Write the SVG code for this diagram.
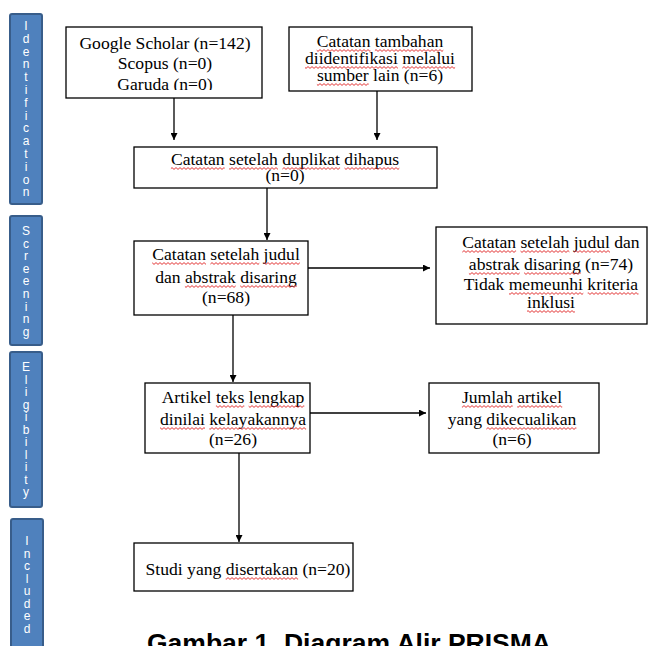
<svg xmlns="http://www.w3.org/2000/svg" width="658" height="646" viewBox="0 0 658 646">
<defs>
<style>
.bg{fill:#ffffff}
.side{fill:#4F81BD;stroke:#385D8A;stroke-width:2}
.sidet{fill:#ffffff;font-family:"Liberation Sans","DejaVu Sans",sans-serif;font-size:12px;text-anchor:middle}
.box{fill:#ffffff;stroke:#000000;stroke-width:1.3}
.t{font-family:"Liberation Serif","Times New Roman",serif;font-size:17.6px;fill:#000;text-anchor:middle}
.conn line{stroke:#000;stroke-width:1.3}
.cap{font-family:"Liberation Sans","DejaVu Sans",sans-serif;font-size:26.5px;font-weight:bold;fill:#000;text-anchor:middle}
.s0{fill:url(#sq0)}
.s1{fill:url(#sq1)}
.s2{fill:url(#sq2)}
</style>
<pattern id="sq0" patternUnits="userSpaceOnUse" x="0" y="0" width="4" height="3"><path d="M0,0.6 L2,2.4 L4,0.6" fill="none" stroke="#e02020" stroke-width="0.9"/></pattern>
<pattern id="sq1" patternUnits="userSpaceOnUse" x="0" y="1" width="4" height="3"><path d="M0,0.6 L2,2.4 L4,0.6" fill="none" stroke="#e02020" stroke-width="0.9"/></pattern>
<pattern id="sq2" patternUnits="userSpaceOnUse" x="0" y="2" width="4" height="3"><path d="M0,0.6 L2,2.4 L4,0.6" fill="none" stroke="#e02020" stroke-width="0.9"/></pattern>
<marker id="ah" viewBox="0 0 10 10" refX="10" refY="5" markerWidth="7" markerHeight="7" markerUnits="userSpaceOnUse" orient="auto">
<path d="M0,0 L10,5 L0,10 z" fill="#000"/>
</marker>
<clipPath id="clipG"><rect x="66" y="27" width="196" height="63"/></clipPath>
</defs>
<rect class="bg" x="0" y="0" width="658" height="646"/>

<g id="phase-identification">
<rect class="side" x="10" y="14" width="32" height="190" rx="2"/>
<text class="sidet" x="26" y="30"><tspan x="26">I</tspan><tspan x="26" dy="12.8">d</tspan><tspan x="26" dy="12.8">e</tspan><tspan x="26" dy="12.8">n</tspan><tspan x="26" dy="12.8">t</tspan><tspan x="26" dy="12.8">i</tspan><tspan x="26" dy="12.8">f</tspan><tspan x="26" dy="12.8">i</tspan><tspan x="26" dy="12.8">c</tspan><tspan x="26" dy="12.8">a</tspan><tspan x="26" dy="12.8">t</tspan><tspan x="26" dy="12.8">i</tspan><tspan x="26" dy="12.8">o</tspan><tspan x="26" dy="12.8">n</tspan></text>
</g>
<g id="phase-screening">
<rect class="side" x="10" y="216" width="32" height="129" rx="2"/>
<text class="sidet" x="26" y="235"><tspan x="26">S</tspan><tspan x="26" dy="12.6">c</tspan><tspan x="26" dy="12.6">r</tspan><tspan x="26" dy="12.6">e</tspan><tspan x="26" dy="12.6">e</tspan><tspan x="26" dy="12.6">n</tspan><tspan x="26" dy="12.6">i</tspan><tspan x="26" dy="12.6">n</tspan><tspan x="26" dy="12.6">g</tspan></text>
</g>
<g id="phase-eligibility">
<rect class="side" x="10" y="352" width="32" height="155" rx="2"/>
<text class="sidet" x="26" y="371"><tspan x="26">E</tspan><tspan x="26" dy="12.5">l</tspan><tspan x="26" dy="12.5">i</tspan><tspan x="26" dy="12.5">g</tspan><tspan x="26" dy="12.5">i</tspan><tspan x="26" dy="12.5">b</tspan><tspan x="26" dy="12.5">i</tspan><tspan x="26" dy="12.5">l</tspan><tspan x="26" dy="12.5">i</tspan><tspan x="26" dy="12.5">t</tspan><tspan x="26" dy="12.5">y</tspan></text>
</g>
<g id="phase-included">
<rect class="side" x="11" y="519" width="32" height="140" rx="2"/>
<text class="sidet" x="27" y="545"><tspan x="27">I</tspan><tspan x="27" dy="12.5">n</tspan><tspan x="27" dy="12.5">c</tspan><tspan x="27" dy="12.5">l</tspan><tspan x="27" dy="12.5">u</tspan><tspan x="27" dy="12.5">d</tspan><tspan x="27" dy="12.5">e</tspan><tspan x="27" dy="12.5">d</tspan></text>
</g>

<g id="conn" class="conn">
<line x1="174" y1="98" x2="174" y2="140" marker-end="url(#ah)"/>
<line x1="377" y1="91" x2="377" y2="140" marker-end="url(#ah)"/>
<line x1="267" y1="188" x2="267" y2="240" marker-end="url(#ah)"/>
<line x1="308" y1="268" x2="430" y2="268" marker-end="url(#ah)"/>
<line x1="233" y1="315" x2="233" y2="382" marker-end="url(#ah)"/>
<line x1="310" y1="413" x2="426" y2="413" marker-end="url(#ah)"/>
<line x1="239" y1="453" x2="239" y2="542" marker-end="url(#ah)"/>
</g>

<g id="n-sources">
<rect class="box" x="66" y="27" width="196" height="71"/>
<g clip-path="url(#clipG)">
<text class="t" x="165" y="49">Google Scholar (n=142)</text>
<text class="t" x="165" y="69">Scopus (n=0)</text>
<text class="t" x="165" y="90">Garuda (n=0)</text>
</g>
</g>

<g id="n-other">
<rect class="box" x="289" y="27" width="183" height="64"/>
<text class="t" x="380" y="47">Catatan tambahan</text>
<text class="t" x="380" y="64">diidentifikasi melalui</text>
<text class="t" x="380" y="81">sumber lain (n=6)</text>
<rect class="s1" x="316.7" y="49" width="53.8" height="3"/>
<rect class="s1" x="374.9" y="49" width="68.4" height="3"/>
<rect class="s0" x="305" y="66" width="92.9" height="3"/>
<rect class="s0" x="402.3" y="66" width="52.8" height="3"/>
<rect class="s2" x="316.9" y="83" width="51.8" height="3"/>
</g>

<g id="n-dedup">
<rect class="box" x="134" y="147" width="303" height="41"/>
<text class="t" x="285" y="165">Catatan setelah duplikat dihapus</text>
<text class="t" x="285" y="181">(n=0)</text>
<rect class="s2" x="170.9" y="167" width="53.8" height="3"/>
<rect class="s2" x="229.1" y="167" width="48.9" height="3"/>
<rect class="s2" x="282.4" y="167" width="57.7" height="3"/>
<rect class="s2" x="344.5" y="167" width="54.8" height="3"/>
</g>

<g id="n-screened">
<rect class="box" x="134" y="241" width="174" height="74"/>
<text class="t" x="226" y="260">Catatan setelah judul</text>
<text class="t" x="226" y="283">dan abstrak disaring</text>
<text class="t" x="226" y="303">(n=68)</text>
<rect class="s1" x="152.2" y="262" width="53.8" height="3"/>
<rect class="s1" x="210.4" y="262" width="48.9" height="3"/>
<rect class="s1" x="263.6" y="262" width="36.2" height="3"/>
<rect class="s0" x="184.9" y="285" width="50.8" height="3"/>
<rect class="s0" x="240.2" y="285" width="56.7" height="3"/>
</g>

<g id="n-excluded1">
<rect class="box" x="436" y="227" width="211" height="97"/>
<text class="t" x="551" y="248">Catatan setelah judul dan</text>
<text class="t" x="551" y="270">abstrak disaring (n=74)</text>
<text class="t" x="551" y="290">Tidak memeunhi kriteria</text>
<text class="t" x="551" y="308">inklusi</text>
<rect class="s1" x="462.3" y="250" width="53.8" height="3"/>
<rect class="s1" x="520.5" y="250" width="48.9" height="3"/>
<rect class="s1" x="573.8" y="250" width="36.2" height="3"/>
<rect class="s2" x="468.9" y="272" width="50.8" height="3"/>
<rect class="s2" x="524.1" y="272" width="56.7" height="3"/>
<rect class="s1" x="509" y="292" width="74.3" height="3"/>
<rect class="s1" x="587.7" y="292" width="50.8" height="3"/>
<rect class="s1" x="527" y="310" width="47.9" height="3"/>
</g>

<g id="n-fulltext">
<rect class="box" x="145" y="383" width="165" height="70"/>
<text class="t" x="233" y="403">Artikel teks lengkap</text>
<text class="t" x="233" y="425">dinilai kelayakannya</text>
<text class="t" x="233" y="445">(n=26)</text>
<rect class="s0" x="215.9" y="405" width="28.4" height="3"/>
<rect class="s0" x="248.6" y="405" width="55.7" height="3"/>
<rect class="s1" x="160" y="427" width="45" height="3"/>
<rect class="s1" x="209.3" y="427" width="96.8" height="3"/>
</g>

<g id="n-excluded2">
<rect class="box" x="429" y="383" width="170" height="70"/>
<text class="t" x="512" y="403">Jumlah artikel</text>
<text class="t" x="512" y="425">yang dikecualikan</text>
<text class="t" x="512" y="445">(n=6)</text>
<rect class="s0" x="461.9" y="405" width="50.8" height="3"/>
<rect class="s0" x="517.2" y="405" width="45" height="3"/>
<rect class="s1" x="486.4" y="427" width="90" height="3"/>
</g>

<g id="n-included">
<rect class="box" x="134" y="543" width="219" height="48"/>
<text class="t" x="248" y="575">Studi yang disertakan (n=20)</text>
<rect class="s1" x="225.7" y="577" width="72.4" height="3"/>
</g>

<text class="cap" x="349" y="652">Gambar 1. Diagram Alir PRISMA</text>
</svg>
